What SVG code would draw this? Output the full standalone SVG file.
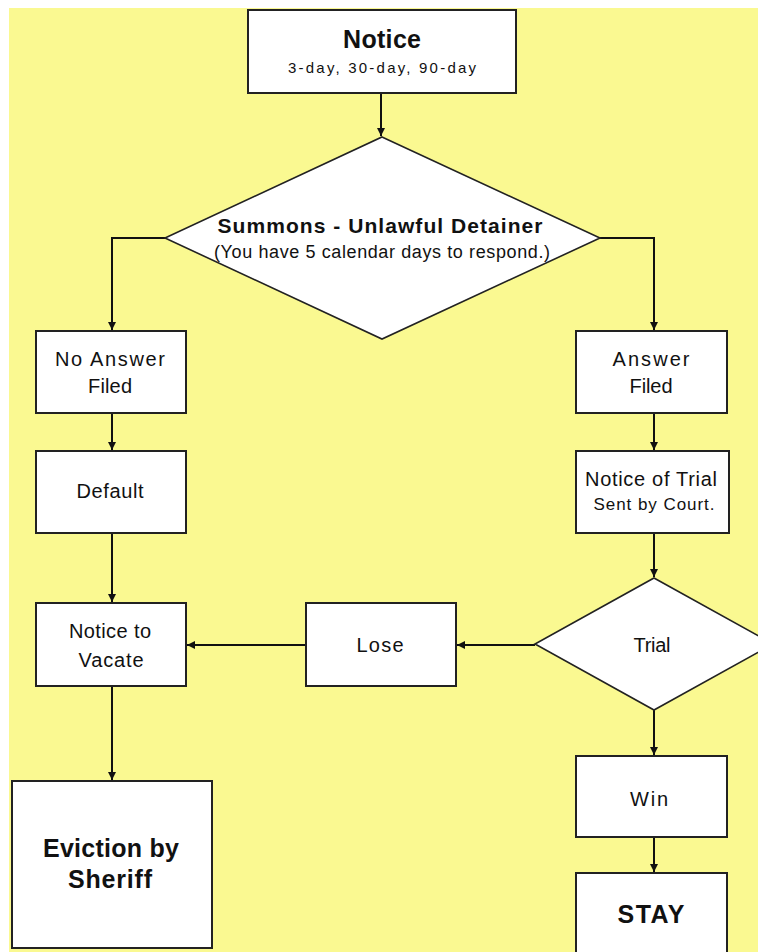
<svg xmlns="http://www.w3.org/2000/svg" width="758" height="952" viewBox="0 0 758 952">
<style>
.box{fill:#fff;stroke:#222;stroke-width:2}
.dia{fill:#fff;stroke:#222;stroke-width:1.6}
.t{font-family:"Liberation Sans",Arial,sans-serif;font-size:20px;fill:#111;text-anchor:middle}
.b{font-weight:bold}
.c{fill:none;stroke:#111;stroke-width:2}
</style>
<defs>
<marker id="ah" markerWidth="10" markerHeight="10" refX="9" refY="5" orient="auto" markerUnits="userSpaceOnUse">
<path d="M1,1 L9,5 L1,9 Z" fill="#111"/>
</marker>
</defs>
<rect x="0" y="0" width="758" height="952" fill="#fff"/>
<rect x="9" y="8" width="749" height="944" fill="#FAF991"/>

<g id="connectors">
<path class="c" d="M381,93 V136" marker-end="url(#ah)"/>
<path class="c" d="M165,238 H112 V330" marker-end="url(#ah)"/>
<path class="c" d="M600,238 H654 V330" marker-end="url(#ah)"/>
<path class="c" d="M112,413 V450" marker-end="url(#ah)"/>
<path class="c" d="M112,533 V602" marker-end="url(#ah)"/>
<path class="c" d="M112,686 V780" marker-end="url(#ah)"/>
<path class="c" d="M654,413 V450" marker-end="url(#ah)"/>
<path class="c" d="M654,533 V577" marker-end="url(#ah)"/>
<path class="c" d="M535,645 H457" marker-end="url(#ah)"/>
<path class="c" d="M306,645 H187" marker-end="url(#ah)"/>
<path class="c" d="M654,710 V755" marker-end="url(#ah)"/>
<path class="c" d="M654,837 V872" marker-end="url(#ah)"/>
</g>

<g id="notice">
<rect class="box" x="248" y="10" width="268" height="83"/>
<text class="t b" x="382" y="48" style="font-size:25px" textLength="78" lengthAdjust="spacing">Notice</text>
<text class="t" x="382" y="73" style="font-size:15px" textLength="188" lengthAdjust="spacing">3-day, 30-day, 90-day</text>
</g>

<g id="summons">
<polygon class="dia" points="382,137 600,238 382,339 165,238"/>
<text class="t b" x="380" y="233" style="font-size:21px" textLength="325" lengthAdjust="spacing">Summons - Unlawful Detainer</text>
<text class="t" x="382" y="258" style="font-size:18px" textLength="336" lengthAdjust="spacing">(You have 5 calendar days to respond.)</text>
</g>

<g id="no-answer">
<rect class="box" x="36" y="331" width="150" height="82"/>
<text class="t" x="110" y="366" textLength="110" lengthAdjust="spacing">No Answer</text>
<text class="t" x="110" y="393" textLength="44" lengthAdjust="spacing">Filed</text>
</g>

<g id="default">
<rect class="box" x="36" y="451" width="150" height="82"/>
<text class="t" x="110" y="498" textLength="67" lengthAdjust="spacing">Default</text>
</g>

<g id="notice-to-vacate">
<rect class="box" x="36" y="603" width="150" height="83"/>
<text class="t" x="110" y="638" textLength="82" lengthAdjust="spacing">Notice to</text>
<text class="t" x="111" y="667" textLength="65" lengthAdjust="spacing">Vacate</text>
</g>

<g id="eviction">
<rect class="box" x="12" y="781" width="200" height="167"/>
<text class="t b" x="111" y="857" style="font-size:25px" textLength="136" lengthAdjust="spacing">Eviction by</text>
<text class="t b" x="110" y="888" style="font-size:25px" textLength="84" lengthAdjust="spacing">Sheriff</text>
</g>

<g id="answer-filed">
<rect class="box" x="576" y="331" width="151" height="82"/>
<text class="t" x="651" y="366" textLength="77" lengthAdjust="spacing">Answer</text>
<text class="t" x="651" y="393" textLength="43" lengthAdjust="spacing">Filed</text>
</g>

<g id="notice-of-trial">
<rect class="box" x="576" y="451" width="153" height="82"/>
<text class="t" x="651" y="486" textLength="132" lengthAdjust="spacing">Notice of Trial</text>
<text class="t" x="654" y="510" style="font-size:17px" textLength="121" lengthAdjust="spacing">Sent by Court.</text>
</g>

<g id="trial">
<polygon class="dia" points="654,578 773,644 654,710 535,644"/>
<text class="t" x="652" y="652" textLength="37" lengthAdjust="spacing">Trial</text>
</g>

<g id="lose">
<rect class="box" x="306" y="603" width="150" height="83"/>
<text class="t" x="380" y="652" textLength="47" lengthAdjust="spacing">Lose</text>
</g>

<g id="win">
<rect class="box" x="576" y="756" width="151" height="81"/>
<text class="t" x="649" y="806" textLength="38" lengthAdjust="spacing">Win</text>
</g>

<g id="stay">
<rect class="box" x="576" y="873" width="151" height="100"/>
<text class="t b" x="651" y="923" style="font-size:25px" textLength="67" lengthAdjust="spacing">STAY</text>
</g>
</svg>
